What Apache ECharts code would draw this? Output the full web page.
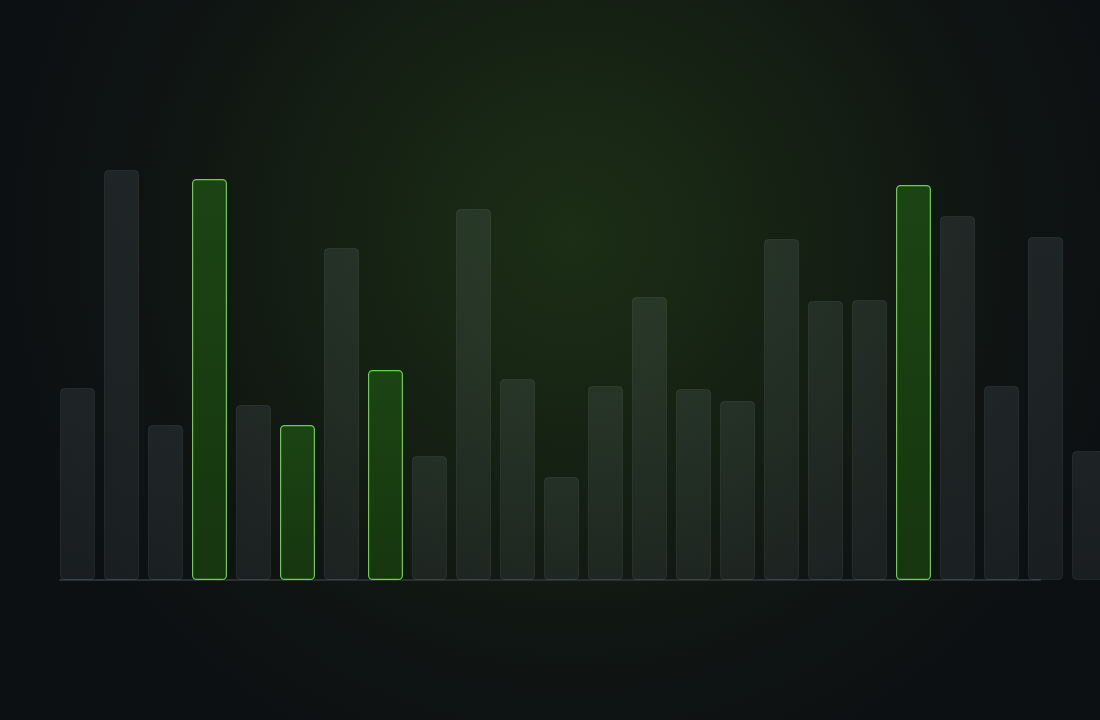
<!DOCTYPE html>
<html>
<head>
<meta charset="utf-8">
<script src="https://cdn.jsdelivr.net/npm/echarts@6/dist/echarts.min.js"></script>
<style>
  html, body { margin: 0; padding: 0; background: #0d1013; }
  #main { width: 1100px; height: 720px; }
</style>
</head>
<body>
<div id="main"></div>
<script>
// 数据
var categories = ['01', '02', '03', '04', '05', '06', '07', '08', '09', '10', '11', '12',
                  '13', '14', '15', '16', '17', '18', '19', '20', '21', '22', '23', '24'];
var values = [38.4, 82, 31, 80.2, 35, 31, 66.4, 42, 24.8, 74.2, 40.2, 20.6,
              38.8, 56.6, 38.2, 35.8, 68.2, 55.8, 56, 79, 72.8, 38.8, 68.6, 25.8];
var highlighted = [3, 5, 7, 19];   // 高亮的柱子

var dom = document.getElementById('main');
var myChart = echarts.init(dom);

var greyStyle = {
    color: new echarts.graphic.LinearGradient(0, 0, 0, 1, [
        {offset: 0, color: 'rgba(205,225,240,0.085)'},
        {offset: 1, color: 'rgba(205,225,240,0.065)'}
    ]),
    borderColor: 'rgba(220,235,245,0.08)',
    borderWidth: 1,
    borderRadius: 4
};
var greenStyle = {
    color: new echarts.graphic.LinearGradient(0, 0, 0, 1, [
        {offset: 0, color: '#1c4413'},
        {offset: 1, color: '#163610'}
    ]),
    borderColor: '#5fd63b',
    borderWidth: 1.2,
    borderRadius: 4
};

function getData(vals) {
    var data = [];
    for (var i = 0; i < vals.length; i++) {
        data.push({
            value: vals[i],
            itemStyle: highlighted.indexOf(i) >= 0 ? greenStyle : greyStyle
        });
    }
    return data;
}

var option = {
    backgroundColor: {
        type: 'radial',
        x: 0.52, y: 0.33, r: 0.8,
        colorStops: [
            {offset: 0, color: '#1c2e16'},
            {offset: 0.4, color: '#152113'},
            {offset: 0.75, color: '#0f1413'},
            {offset: 1, color: '#0d1012'}
        ]
    },
    animation: false,
    grid: [
        {left: 55.5, width: 1056, top: 80, bottom: 140, outerBoundsMode: 'none'},
        {left: 60, right: 60, top: 80, bottom: 140, outerBoundsMode: 'none'}
    ],
    xAxis: [
        {
            type: 'category',
            gridIndex: 0,
            data: categories,
            axisLine: {show: false},
            axisTick: {show: false},
            axisLabel: {show: false}
        },
        {
            type: 'value',
            gridIndex: 1,
            min: 0, max: 1,
            axisLine: {show: true, lineStyle: {color: '#293033', width: 2}},
            axisTick: {show: false},
            axisLabel: {show: false},
            splitLine: {show: false}
        }
    ],
    yAxis: [
        {type: 'value', gridIndex: 0, min: 0, max: 100, show: false},
        {type: 'value', gridIndex: 1, min: 0, max: 100, show: false}
    ],
    series: [
        {
            type: 'bar',
            xAxisIndex: 0,
            yAxisIndex: 0,
            barWidth: 35,
            data: getData(values),
            z: 3
        }
    ]
};

if (option && typeof option === 'object') {
    myChart.setOption(option, true);
}
</script>
</body>
</html>
